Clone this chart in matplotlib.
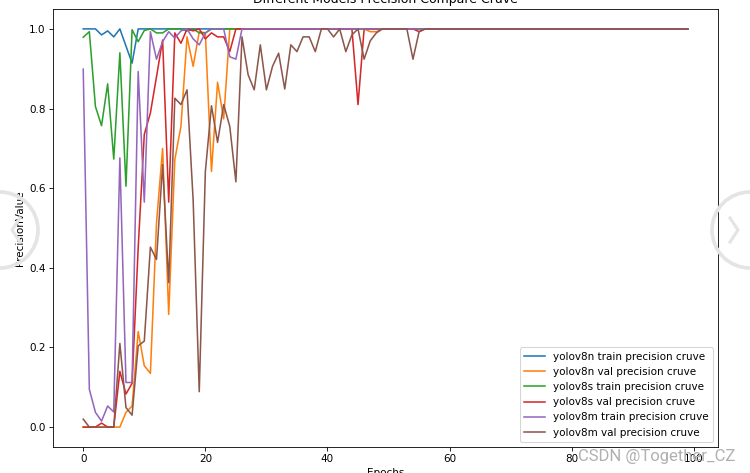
#!/usr/bin/env python3

''' Different models precision compare curve '''
import numpy as np
from matplotlib import pyplot as plt
from matplotlib.patches import Circle
from matplotlib.lines import Line2D

n_epochs = 100
epochs = np.arange(n_epochs)

# values, every series sits at 1.0 after the listed part
v8n_train = [1.0, 1.0, 1.0, 0.985, 0.995, 0.98, 1.0, 0.957, 0.914]
v8n_val = [0.0, 0.0, 0.0, 0.0, 0.0, 0.0, 0.0, 0.037, 0.053, 0.24,
           0.154, 0.135, 0.513, 0.70, 0.283, 0.672, 0.755, 0.98, 0.906, 0.993,
           0.99, 0.642, 0.866, 0.774, 1.0, 1.0, 1.0, 1.0, 1.0, 1.0,
           1.0, 1.0, 1.0, 1.0, 1.0, 1.0, 1.0, 1.0, 1.0, 1.0,
           1.0, 1.0, 1.0, 1.0, 1.0, 1.0, 1.0, 0.993, 0.993]
v8s_train = [0.979, 0.993, 0.805, 0.757, 0.862, 0.673, 0.94, 0.605, 0.998, 0.968,
             0.996, 1.0, 0.99, 0.99, 1.0, 1.0, 1.0, 0.995, 1.0, 0.99,
             0.99]
v8s_val = [0.0, 0.0, 0.0, 0.01, 0.0, 0.0, 0.14, 0.083, 0.11, 0.45,
           0.735, 0.789, 0.88, 0.972, 0.565, 0.99, 0.964, 1.0, 0.995, 1.0,
           0.975, 0.99, 0.98, 0.98, 0.943, 1.0, 1.0, 1.0, 1.0, 1.0,
           1.0, 1.0, 1.0, 1.0, 1.0, 1.0, 1.0, 1.0, 1.0, 1.0,
           1.0, 1.0, 1.0, 1.0, 1.0, 0.81, 1.0, 1.0, 1.0, 1.0,
           1.0, 1.0, 1.0, 1.0, 1.0, 0.993]
v8m_train = [0.899, 0.095, 0.037, 0.015, 0.053, 0.038, 0.676, 0.112, 0.112, 0.893,
             0.565, 0.993, 0.924, 0.968, 0.993, 0.977, 0.995, 1.0, 0.975, 0.96,
             0.99, 1.0, 1.0, 1.0, 0.93, 0.924]
v8m_val = [0.02, 0.0, 0.0, 0.0, 0.0, 0.0, 0.21, 0.049, 0.03, 0.204,
           0.216, 0.452, 0.421, 0.659, 0.363, 0.826, 0.81, 0.847, 0.57, 0.089,
           0.642, 0.807, 0.715, 0.81, 0.755, 0.616, 0.98, 0.885, 0.847, 0.96,
           0.847, 0.906, 0.939, 0.849, 0.96, 0.943, 0.98, 0.98, 0.943, 1.0,
           1.0, 0.98, 1.0, 0.943, 0.985, 1.0, 0.924, 0.97, 0.99, 1.0,
           1.0, 1.0, 1.0, 1.0, 0.924, 0.993]

labels = ['yolov8n train precision cruve', 'yolov8n val precision cruve',
          'yolov8s train precision cruve', 'yolov8s val precision cruve',
          'yolov8m train precision cruve', 'yolov8m val precision cruve']


def pad(s):
    return s + [1.0] * (n_epochs - len(s))


series = [v8n_train, v8n_val, v8s_train, v8s_val, v8m_train, v8m_val]

fig, ax = plt.subplots(figsize=(10, 473 / 75), dpi=75)
fig.subplots_adjust(left=53 / 750, right=718 / 750, top=1 - 9 / 473, bottom=1 - 447 / 473)

for s, lab in zip(series, labels):
    ax.plot(epochs, pad(s), label=lab)

ax.set(xlabel='Epochs', ylabel='PrecisionValue',
       title='Different Models Precision Compare Cruve')
ax.legend(loc='lower right')

# screenshot overlay: carousel arrows and watermark
for cx, sign in [(0, -1), (750, 1)]:
    fig.add_artist(Circle((cx, 243), 38, transform=None, facecolor='none',
                          edgecolor='#e4e4e4', lw=3.5, zorder=10))
    fig.add_artist(Line2D([cx - sign * 20, cx - sign * 12, cx - sign * 20], [255, 243, 231],
                          transform=None, color='#e4e4e4', lw=3, zorder=10))
fig.text(735 / 750, 1 - 461 / 473, 'CSDN @Together_CZ', ha='right', va='baseline',
         fontsize=16, family='Roboto', color='#b0b0b0', zorder=10)

fig.savefig('out.png', dpi=75)
